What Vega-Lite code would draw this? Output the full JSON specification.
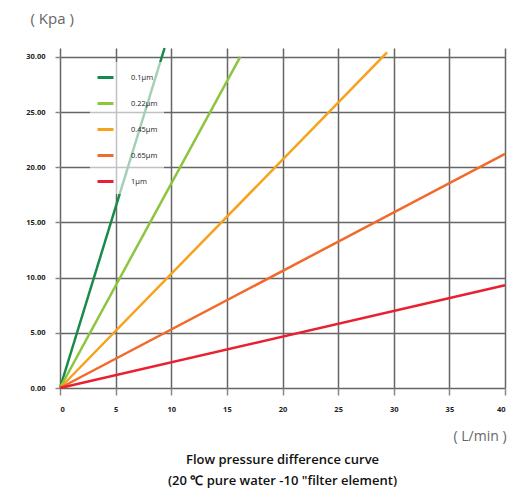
{
  "$schema": "https://vega.github.io/schema/vega-lite/v6.json",
  "autosize": {"type": "none"},
  "padding": {"left": 60, "top": 48, "right": 12, "bottom": 102},
  "width": 445,
  "height": 340,
  "background": "white",
  "config": {"view": {"stroke": null}},
  "title": {
    "text": ["Flow pressure difference curve", "(20 ℃ pure water -10 \"filter element)"],
    "orient": "bottom",
    "anchor": "middle",
    "font": "Open Sans",
    "fontSize": 13,
    "fontWeight": 600,
    "color": "#111",
    "lineHeight": 21,
    "offset": 11
  },
  "data": {
    "values": [
      {"size": "0.1μm", "flow": 0, "kpa": 0},
      {"size": "0.1μm", "flow": 9.4, "kpa": 30.8},
      {"size": "0.22μm", "flow": 0, "kpa": 0},
      {"size": "0.22μm", "flow": 16.2, "kpa": 30},
      {"size": "0.45μm", "flow": 0, "kpa": 0},
      {"size": "0.45μm", "flow": 29.4, "kpa": 30.4},
      {"size": "0.65μm", "flow": 0, "kpa": 0},
      {"size": "0.65μm", "flow": 40, "kpa": 21.2},
      {"size": "1μm", "flow": 0, "kpa": 0},
      {"size": "1μm", "flow": 40, "kpa": 9.3}
    ]
  },
  "mark": {"type": "line", "strokeWidth": 2.5, "clip": false},
  "encoding": {
    "x": {
      "field": "flow", "type": "quantitative",
      "scale": {"domain": [0, 40], "nice": false, "zero": true},
      "axis": {
        "values": [0, 5, 10, 15, 20, 25, 30, 35, 40],
        "domain": false,
        "grid": true, "gridColor": "#666", "gridWidth": 1.5,
        "ticks": true, "tickColor": "#888", "tickWidth": 1.5, "tickSize": 7,
        "labelFont": "Open Sans", "labelFontSize": 7.5, "labelFontWeight": "bold", "labelColor": "#222",
        "labelPadding": 10,
        "title": "( L/min )",
        "titleFont": "Open Sans", "titleFontSize": 14, "titleFontWeight": "normal", "titleColor": "#666",
        "titleAlign": "left", "titleAnchor": "start", "titleX": 393, "titleY": 48, "titleBaseline": "middle"
      }
    },
    "y": {
      "field": "kpa", "type": "quantitative",
      "scale": {"domain": [0, 30.8], "nice": false, "zero": true},
      "axis": {
        "values": [0, 5, 10, 15, 20, 25, 30],
        "format": ".2f",
        "domain": false,
        "grid": true, "gridColor": "#666", "gridWidth": 1.5,
        "ticks": true, "tickColor": "#888", "tickWidth": 1.5, "tickSize": 5,
        "labelFont": "Open Sans", "labelFontSize": 7.5, "labelFontWeight": "bold", "labelColor": "#222",
        "labelPadding": 10,
        "title": "( Kpa )",
        "titleFont": "Open Sans", "titleFontSize": 15, "titleFontWeight": "normal", "titleColor": "#666",
        "titleAngle": 0, "titleAlign": "left", "titleAnchor": "start", "titleX": -30, "titleY": -30, "titleBaseline": "middle"
      }
    },
    "color": {
      "field": "size", "type": "nominal",
      "scale": {
        "domain": ["0.1μm", "0.22μm", "0.45μm", "0.65μm", "1μm"],
        "range": ["#1a8a4a", "#8cc63f", "#f7a21b", "#f26a2b", "#e8202f"]
      },
      "legend": {
        "title": null,
        "orient": "none",
        "legendX": 30,
        "legendY": 14,
        "symbolType": "stroke",
        "symbolSize": 256,
        "symbolStrokeWidth": 3,
        "labelFont": "Open Sans",
        "labelFontSize": 7.5,
        "labelColor": "#222",
        "labelOffset": 16,
        "rowPadding": 10,
        "fillColor": "rgba(255,255,255,0.6)",
        "padding": 6
      }
    }
  }
}
